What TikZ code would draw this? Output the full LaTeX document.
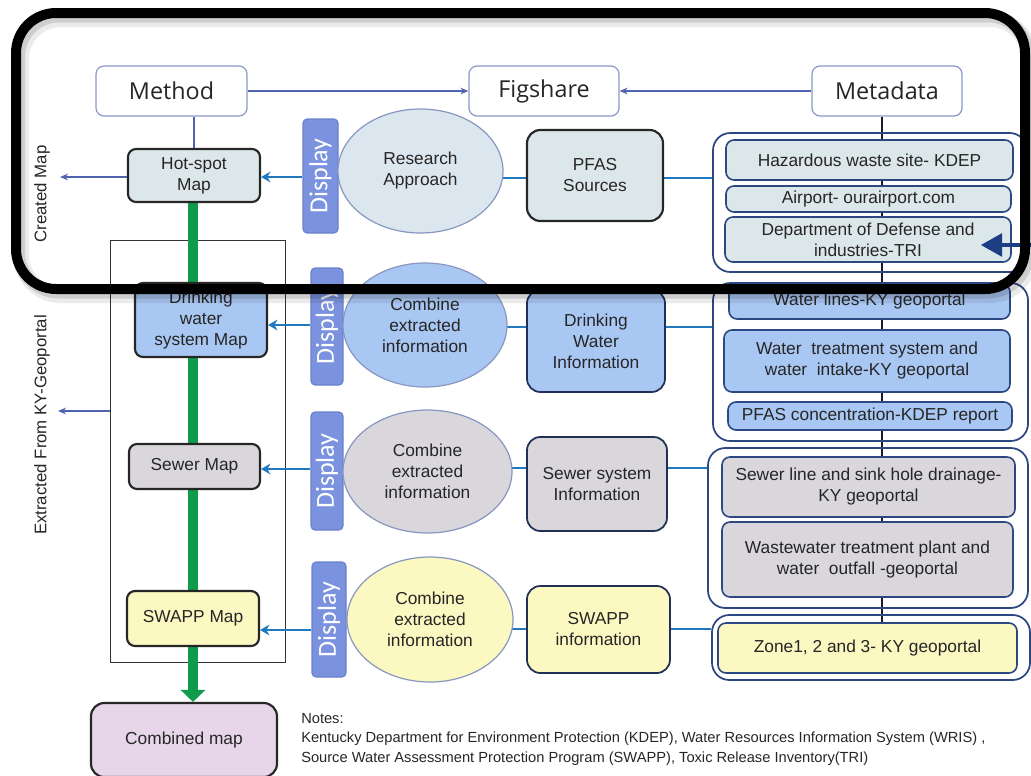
\documentclass[tikz,border=0pt]{standalone}
\usepackage{fontspec}
\setmainfont{Liberation Sans}
\newfontfamily\topfont{Open Sans}
\newfontfamily\dispfont{Carlito}
\usetikzlibrary{arrows.meta,backgrounds,calc,shapes.geometric}
\definecolor{txt}{HTML}{262626}
\definecolor{topb}{HTML}{8A98C9}
\definecolor{thinblue}{HTML}{5064AE}
\definecolor{blueline}{HTML}{1F78C0}
\definecolor{dispfill}{HTML}{7B92DF}
\definecolor{dispdraw}{HTML}{6A80CC}
\definecolor{ellb}{HTML}{8797C0}
\definecolor{lgb}{HTML}{DCE7EA}
\definecolor{lgbell}{HTML}{DCE6EF}
\definecolor{bluef}{HTML}{A9C7F3}
\definecolor{grayf}{HTML}{D9D6DC}
\definecolor{yellowf}{HTML}{FBF8C1}
\definecolor{purplef}{HTML}{E7D6EA}
\definecolor{navy}{HTML}{2D4783}
\definecolor{darknavy}{HTML}{1F2F55}
\definecolor{greenl}{HTML}{0E9B4C}
\definecolor{bignavy}{HTML}{1D3D85}
\definecolor{vline}{HTML}{1A1A2A}
\tikzset{
  base/.style={inner sep=0pt, align=center, text=txt, font=\fontsize{13}{15.75}\selectfont},
  sz/.style 2 args={minimum width=#1*0.75pt, minimum height=#2*0.75pt},
  topbox/.style={base, draw=topb, line width=0.9pt, fill=white, rounded corners=6pt, font=\topfont\fontsize{17.5}{20}\selectfont},
  mapbox/.style={base, draw=black!85, line width=1.6pt, rounded corners=6pt},
  infobox/.style={base, draw=darknavy, line width=1.3pt, rounded corners=10pt},
  grp/.style={draw=navy, line width=1.3pt, rounded corners=13pt, inner sep=0pt},
  item/.style={base, draw=navy, line width=1.2pt, rounded corners=6pt},
  disp/.style={inner sep=0pt, fill=dispfill, draw=dispdraw, line width=0.8pt, rounded corners=3pt, text=white, font=\dispfont\fontsize{19.5}{20}\selectfont},
  ell/.style={base, ellipse, draw=ellb, line width=0.9pt},
  thinarr/.style={draw=thinblue, line width=1.1pt, -{Stealth[length=6pt,width=5pt]}},
  thinln/.style={draw=thinblue, line width=1.1pt},
  bluearr/.style={draw=blueline, line width=2.2pt, -{Stealth[length=7pt,width=8pt]}},
  blueln/.style={draw=blueline, line width=2.2pt},
  sidelbl/.style={inner sep=0pt, text=txt, rotate=90, font=\fontsize{12.6}{15}\selectfont},
  framestyle/.style={line width=7.5pt, rounded corners=30pt},
}
\begin{document}
\begin{tikzpicture}[x=0.75pt,y=-0.75pt]
\useasboundingbox (0,0) rectangle (1031,775);

% top row
\node[topbox, sz={151}{50}] (method) at (171.5,91) {Method};
\node[topbox, sz={150}{50}] (figshare) at (544,91) {Figshare};
\node[topbox, sz={150}{50}] (metadata) at (887,91) {Metadata};

% maps column
\node[mapbox, fill=lgb, sz={132}{53}] (hotspot) at (194,175.5) {Hot-spot\\Map};
\node[mapbox, fill=bluef, sz={132}{74}] (dmap) at (201,320) {Drinking\\water\\system Map};
\node[mapbox, fill=grayf, sz={131}{45}] (smap) at (194.5,466.5) {Sewer Map};
\node[mapbox, fill=yellowf, sz={132}{55}] (swmap) at (193,618.5) {SWAPP Map};
\node[mapbox, fill=purplef, rounded corners=10pt, sz={186}{74}] (combined) at (184,740) {Combined map};

% display bars
\node[disp, sz={35}{114}] (d1) at (320.5,176) {\rotatebox{90}{Display}};
\node[disp, sz={32}{117}] (d2) at (327,326.5) {\rotatebox{90}{Display}};
\node[disp, sz={32}{118}] (d3) at (327,471) {\rotatebox{90}{Display}};
\node[disp, sz={34}{115}] (d4) at (329,619.5) {\rotatebox{90}{Display}};

% ellipses
\node[ell, fill=lgbell, sz={165}{124}] (e1) at (420.5,171) {Research\\Approach};
\node[ell, fill=bluef, sz={164}{124}] (e2) at (425,325) {Combine\\extracted\\information};
\node[ell, fill=grayf, sz={169}{123}] (e3) at (427.5,471.5) {Combine\\extracted\\information};
\node[ell, fill=yellowf, sz={166}{125}] (e4) at (430,619.5) {Combine\\extracted\\information};

% information boxes
\node[mapbox, fill=lgb, rounded corners=10pt, sz={136}{91}] (i1) at (595,175.5) {PFAS\\Sources};
\node[infobox, fill=bluef, sz={138}{102}] (i2) at (596,341) {Drinking\\Water\\Information};
\node[infobox, fill=grayf, sz={140}{94}] (i3) at (597,484) {Sewer system\\Information};
\node[infobox, fill=yellowf, sz={143}{87}] (i4) at (598.5,629.5) {SWAPP\\information};

% metadata groups
\node[grp, sz={314}{139}] (g1) at (870,202.5) {};
\node[grp, sz={315}{158}] (g2) at (870.5,362) {};
\node[grp, sz={320}{160}] (g3) at (868,528) {};
\node[grp, sz={318}{65}] (g4) at (871,647.5) {};

\node[item, fill=lgb, sz={287}{40}] (h1) at (869.5,160) {Hazardous waste site- KDEP};
\node[item, fill=lgb, sz={285}{26}] (h2) at (868.5,199) {Airport- ourairport.com};
\node[item, fill=lgb, sz={286}{45}] (h3) at (868,239.5) {Department of Defense and\\industries-TRI};
\node[item, fill=bluef, sz={281}{35}] (w1) at (869.5,301.5) {Water lines-KY geoportal};
\node[item, fill=bluef, sz={286}{62}] (w2) at (867,361) {Water\ \ treatment system and\\water\ \ intake-KY geoportal};
\node[item, fill=bluef, sz={284}{28}] (w3) at (870,416) {PFAS concentration-KDEP report};
\node[item, fill=grayf, sz={293}{60}] (s1) at (868.5,487) {Sewer line and sink hole drainage-\\KY geoportal};
\node[item, fill=grayf, sz={291}{75}] (s2) at (867.5,559.5) {Wastewater treatment plant and\\water\ \ outfall -geoportal};
\node[item, fill=yellowf, sz={299}{50}] (z1) at (867.5,648) {Zone1, 2 and 3- KY geoportal};

% side labels
\node[sidelbl] (createdlbl) at (42,194) {Created Map};
\node[sidelbl] (extractedlbl) at (42,425) {Extracted From KY-Geoportal};

% notes
\node[anchor=north west, inner sep=0pt, align=left, text=txt, font=\fontsize{11}{14.6}\selectfont] (notes) at (301,713)
  {Notes:\\Kentucky Department for Environment Protection (KDEP), Water Resources Information System (WRIS) ,\\Source Water Assessment Protection Program (SWAPP), Toxic Release Inventory(TRI)};

% helper coordinates
\coordinate (gx) at (193,0);
\coordinate (vx) at (882,0);
\coordinate (r1) at (0,178);
\coordinate (r2) at (0,327);
\coordinate (r3) at (0,468);
\coordinate (r4) at (0,629);
\coordinate (a1) at (0,177);
\coordinate (a2) at (0,325);
\coordinate (a3) at (0,469);
\coordinate (a4) at (0,630);
\coordinate (cmarr) at (60,177);
\coordinate (exarr) at (58,411);
\coordinate (bigstart) at (1033,245);

\begin{pgfonlayer}{background}
  \node[draw=black!80, line width=0.7pt, sz={175}{422}, inner sep=0pt] (tall) at (197.5,451) {};
  \draw[draw=greenl, line width=8pt, -{Triangle[length=9pt,width=18pt]}] (hotspot.south -| gx) -- (combined.north -| gx);
  \draw[draw=vline, line width=2pt] (metadata.south -| vx) -- (z1.north -| vx);
  \draw[blueln] (e1.center |- r1) -- (g1.west |- r1);
  \draw[blueln] (e2.center |- r2) -- (g2.west |- r2);
  \draw[blueln] (e3.center |- r3) -- (g3.west |- r3);
  \draw[blueln] (e4.center |- r4) -- (g4.west |- r4);
\end{pgfonlayer}

% connectors
\draw[thinarr] (method.east) -- (figshare.west);
\draw[thinarr] (metadata.west) -- (figshare.east);
\draw[thinln] (method.south -| hotspot.north) -- (hotspot.north);
\draw[thinarr] (hotspot.west |- cmarr) -- (cmarr);
\draw[thinarr] (tall.west |- exarr) -- (exarr);
\draw[bluearr] (d1.west |- a1) -- (hotspot.east |- a1);
\draw[bluearr] (d2.west |- a2) -- (dmap.east |- a2);
\draw[bluearr] (d3.west |- a3) -- (smap.east |- a3);
\draw[bluearr] (d4.west |- a4) -- (swmap.east |- a4);
\draw[draw=bignavy, line width=3pt, -{Triangle[length=16pt,width=17pt]}] (bigstart) -- ($(h3.east |- bigstart)+(-31,0)$);

% highlight frame with soft shadow
\draw[framestyle, black, opacity=0.08, line width=12pt] (21,19) rectangle (1030,295);
\draw[framestyle, black, opacity=0.12, line width=9pt] (19,16.5) rectangle (1028,292.5);
\draw[framestyle, black] (16,13) rectangle (1025,289);
\end{tikzpicture}
\end{document}
